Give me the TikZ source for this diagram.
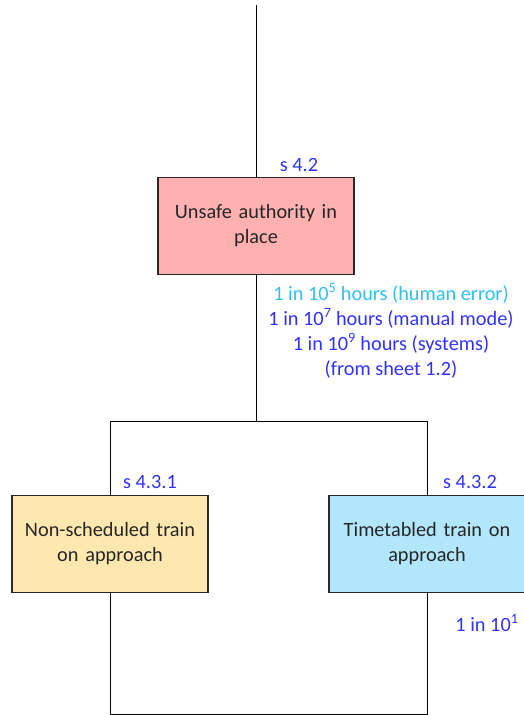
\documentclass[tikz,border=0pt]{standalone}
\usepackage{fontspec}
\setmainfont{Carlito}
\definecolor{pinkfill}{RGB}{255,176,176}
\definecolor{yellowfill}{RGB}{255,232,176}
\definecolor{bluefill}{RGB}{178,230,250}
\definecolor{refblue}{RGB}{50,50,255}
\definecolor{lightref}{RGB}{50,190,240}
\definecolor{edge}{RGB}{40,40,40}
\newcommand{\diagfont}{\fontsize{20.3}{25}\selectfont}
\begin{document}
\begin{tikzpicture}[x=1pt,y=-1pt,
  box/.style={draw=edge, line width=1.2pt, minimum width=196pt, minimum height=97pt,
    align=center, text width=186pt, inner sep=0pt, font=\diagfont, text=black!85},
  wire/.style={draw=black, line width=0.9pt},
  ref/.style={text=refblue, font=\diagfont, inner sep=0pt}]
\useasboundingbox (0,0) rectangle (524,715);
\clip (0,0) rectangle (524,715);

% events
\node[box, fill=pinkfill]   (auth)     at (256,226) {Unsafe authority in\\place};
\node[box, fill=yellowfill] (nonsched) at (110,544) {Non-scheduled train\\on approach};
\node[box, fill=bluefill]   (timetab)  at (427,544) {Timetabled train on\\approach};

% tree wiring
\coordinate (top)   at (256,5);
\coordinate (split) at (256,421);
\coordinate (lt)    at (110,421);
\coordinate (rt)    at (427,421);
\coordinate (lb)    at (110,714);
\coordinate (rb)    at (427,714);
\draw[wire] (top) -- (auth);
\draw[wire] (auth) -- (split);
\draw[wire] (lt) -- (rt);
\draw[wire] (lt) -- (nonsched);
\draw[wire] (rt) -- (timetab);
\draw[wire] (nonsched) -- (lb) -- (rb) -- (timetab);

% section references and frequencies
\node[ref] (s42)  at (299,165) {s 4.2};
\node[ref] (s431) at (150,482) {s 4.3.1};
\node[ref] (s432) at (470,482) {s 4.3.2};
\node[ref, align=center] (freq) at (391,331)
  {\textcolor{lightref}{1 in 10\textsuperscript{5} hours (human error)}\\
   1 in 10\textsuperscript{7} hours (manual mode)\\
   1 in 10\textsuperscript{9} hours (systems)\\
   (from sheet 1.2)};
\node[ref] (tfreq) at (487,623) {1 in 10\textsuperscript{1}};
\end{tikzpicture}
\end{document}
